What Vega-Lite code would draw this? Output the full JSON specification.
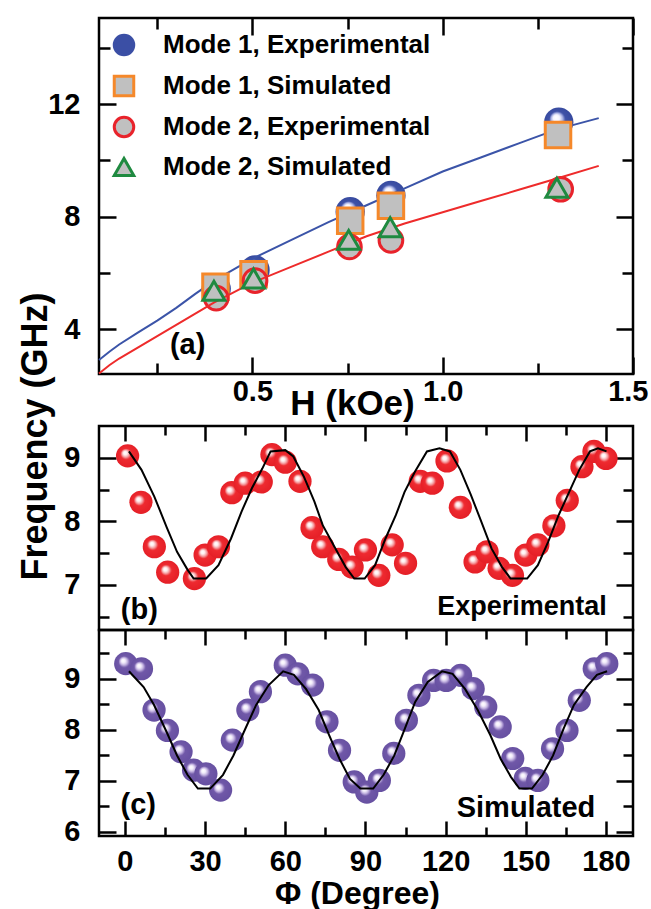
{
  "$schema": "https://vega.github.io/schema/vega-lite/v6.json",
  "background": "white",
  "padding": {"left": 15, "top": 15, "right": 4, "bottom": 5},
  "bounds": "flush",
  "spacing": 0,
  "datasets": {
    "pa": [
      {"series": "Mode 1, Experimental", "H": 0.405, "f": 5.43},
      {"series": "Mode 1, Experimental", "H": 0.507, "f": 6.1},
      {"series": "Mode 1, Experimental", "H": 0.757, "f": 8.17},
      {"series": "Mode 1, Experimental", "H": 0.864, "f": 8.75},
      {"series": "Mode 1, Experimental", "H": 1.305, "f": 11.36},
      {"series": "Mode 1, Simulated", "H": 0.403, "f": 5.5},
      {"series": "Mode 1, Simulated", "H": 0.503, "f": 5.95},
      {"series": "Mode 1, Simulated", "H": 0.757, "f": 7.85},
      {"series": "Mode 1, Simulated", "H": 0.864, "f": 8.38},
      {"series": "Mode 1, Simulated", "H": 1.303, "f": 10.9},
      {"series": "Mode 2, Experimental", "H": 0.405, "f": 5.1},
      {"series": "Mode 2, Experimental", "H": 0.507, "f": 5.72},
      {"series": "Mode 2, Experimental", "H": 0.755, "f": 6.92},
      {"series": "Mode 2, Experimental", "H": 0.864, "f": 7.15},
      {"series": "Mode 2, Experimental", "H": 1.31, "f": 8.97},
      {"series": "Mode 2, Simulated", "H": 0.399, "f": 5.36},
      {"series": "Mode 2, Simulated", "H": 0.503, "f": 5.8},
      {"series": "Mode 2, Simulated", "H": 0.753, "f": 7.17},
      {"series": "Mode 2, Simulated", "H": 0.862, "f": 7.62},
      {"series": "Mode 2, Simulated", "H": 1.3, "f": 9.02}
    ],
    "la": [
      {"mode": "Mode 1", "H": 0.097, "f": 2.9},
      {"mode": "Mode 1", "H": 0.125, "f": 3.2},
      {"mode": "Mode 1", "H": 0.15, "f": 3.45},
      {"mode": "Mode 1", "H": 0.2, "f": 3.88},
      {"mode": "Mode 1", "H": 0.25, "f": 4.3},
      {"mode": "Mode 1", "H": 0.3, "f": 4.75},
      {"mode": "Mode 1", "H": 0.35, "f": 5.25},
      {"mode": "Mode 1", "H": 0.4, "f": 5.72},
      {"mode": "Mode 1", "H": 0.5, "f": 6.5},
      {"mode": "Mode 1", "H": 0.6, "f": 7.15},
      {"mode": "Mode 1", "H": 0.7, "f": 7.8},
      {"mode": "Mode 1", "H": 0.8, "f": 8.4},
      {"mode": "Mode 1", "H": 0.9, "f": 9.0},
      {"mode": "Mode 1", "H": 1.0, "f": 9.6},
      {"mode": "Mode 1", "H": 1.1, "f": 10.1},
      {"mode": "Mode 1", "H": 1.2, "f": 10.6},
      {"mode": "Mode 1", "H": 1.3, "f": 11.1},
      {"mode": "Mode 1", "H": 1.41, "f": 11.5},
      {"mode": "Mode 2", "H": 0.097, "f": 2.42},
      {"mode": "Mode 2", "H": 0.125, "f": 2.72},
      {"mode": "Mode 2", "H": 0.15, "f": 2.95},
      {"mode": "Mode 2", "H": 0.2, "f": 3.35},
      {"mode": "Mode 2", "H": 0.25, "f": 3.75},
      {"mode": "Mode 2", "H": 0.3, "f": 4.15},
      {"mode": "Mode 2", "H": 0.35, "f": 4.55},
      {"mode": "Mode 2", "H": 0.4, "f": 4.95},
      {"mode": "Mode 2", "H": 0.5, "f": 5.65},
      {"mode": "Mode 2", "H": 0.6, "f": 6.2},
      {"mode": "Mode 2", "H": 0.7, "f": 6.75},
      {"mode": "Mode 2", "H": 0.8, "f": 7.3},
      {"mode": "Mode 2", "H": 0.9, "f": 7.75},
      {"mode": "Mode 2", "H": 1.0, "f": 8.15},
      {"mode": "Mode 2", "H": 1.1, "f": 8.55},
      {"mode": "Mode 2", "H": 1.2, "f": 8.95},
      {"mode": "Mode 2", "H": 1.3, "f": 9.35},
      {"mode": "Mode 2", "H": 1.41, "f": 9.8}
    ],
    "pb": [
      {"phi": 1, "f": 9.03}, {"phi": 6, "f": 8.3}, {"phi": 11, "f": 7.6}, {"phi": 16, "f": 7.2},
      {"phi": 26, "f": 7.1}, {"phi": 30, "f": 7.47}, {"phi": 35, "f": 7.6}, {"phi": 40, "f": 8.45},
      {"phi": 45, "f": 8.6}, {"phi": 51, "f": 8.62}, {"phi": 55, "f": 9.05}, {"phi": 60, "f": 8.93},
      {"phi": 65.5, "f": 8.63}, {"phi": 70, "f": 7.9}, {"phi": 74, "f": 7.6}, {"phi": 80, "f": 7.4},
      {"phi": 85, "f": 7.28}, {"phi": 90, "f": 7.55}, {"phi": 95, "f": 7.15}, {"phi": 100, "f": 7.63},
      {"phi": 105, "f": 7.34}, {"phi": 110.5, "f": 8.63}, {"phi": 115, "f": 8.6}, {"phi": 120.5, "f": 8.95},
      {"phi": 125.5, "f": 8.22}, {"phi": 131, "f": 7.36}, {"phi": 135.5, "f": 7.52}, {"phi": 140, "f": 7.26},
      {"phi": 145, "f": 7.15}, {"phi": 150, "f": 7.47}, {"phi": 154.5, "f": 7.63}, {"phi": 160.5, "f": 7.93},
      {"phi": 165.5, "f": 8.33}, {"phi": 171, "f": 8.86}, {"phi": 175.5, "f": 9.1}, {"phi": 180, "f": 8.99}
    ],
    "lb": [
      {"phi": 1.5, "f": 9.1}, {"phi": 6.2, "f": 8.81}, {"phi": 11, "f": 8.39}, {"phi": 15.6, "f": 7.91},
      {"phi": 19.5, "f": 7.52}, {"phi": 23.4, "f": 7.24}, {"phi": 25.7, "f": 7.1}, {"phi": 30.4, "f": 7.1},
      {"phi": 35, "f": 7.31}, {"phi": 39.7, "f": 7.73}, {"phi": 43.6, "f": 8.15}, {"phi": 47.5, "f": 8.52},
      {"phi": 51.4, "f": 8.83}, {"phi": 54.5, "f": 9.1}, {"phi": 60, "f": 9.12}, {"phi": 63, "f": 9.02},
      {"phi": 67, "f": 8.7}, {"phi": 70.9, "f": 8.31}, {"phi": 74, "f": 7.94}, {"phi": 78.8, "f": 7.57},
      {"phi": 82.6, "f": 7.28}, {"phi": 85.8, "f": 7.1}, {"phi": 89.7, "f": 7.1}, {"phi": 93.6, "f": 7.31},
      {"phi": 97.5, "f": 7.73}, {"phi": 101.4, "f": 8.1}, {"phi": 104.6, "f": 8.46}, {"phi": 108.5, "f": 8.78},
      {"phi": 113, "f": 9.1}, {"phi": 117.7, "f": 9.15}, {"phi": 121.6, "f": 9.1}, {"phi": 125.5, "f": 8.81},
      {"phi": 129.4, "f": 8.42}, {"phi": 133.3, "f": 8.0}, {"phi": 137.2, "f": 7.57}, {"phi": 141.1, "f": 7.28},
      {"phi": 144.3, "f": 7.1}, {"phi": 150.5, "f": 7.1}, {"phi": 154.5, "f": 7.31}, {"phi": 158.4, "f": 7.68},
      {"phi": 162.3, "f": 8.1}, {"phi": 166.2, "f": 8.46}, {"phi": 170, "f": 8.81}, {"phi": 174, "f": 9.1},
      {"phi": 177, "f": 9.15}, {"phi": 180.2, "f": 9.1}
    ],
    "pc": [
      {"phi": 0.3, "f": 9.3}, {"phi": 6.2, "f": 9.2}, {"phi": 10.9, "f": 8.39}, {"phi": 15.9, "f": 7.99},
      {"phi": 21, "f": 7.57}, {"phi": 25.7, "f": 7.21}, {"phi": 30.3, "f": 7.14}, {"phi": 35.8, "f": 6.82},
      {"phi": 40.2, "f": 7.8}, {"phi": 46, "f": 8.39}, {"phi": 50.7, "f": 8.75}, {"phi": 60, "f": 9.27},
      {"phi": 64.7, "f": 9.1}, {"phi": 70.2, "f": 8.88}, {"phi": 75.6, "f": 8.16}, {"phi": 80.3, "f": 7.6},
      {"phi": 85.8, "f": 6.98}, {"phi": 90.5, "f": 6.78}, {"phi": 95.2, "f": 7.01}, {"phi": 100.6, "f": 7.54},
      {"phi": 105.3, "f": 8.19}, {"phi": 110, "f": 8.68}, {"phi": 115.5, "f": 8.97}, {"phi": 120.2, "f": 8.97},
      {"phi": 125.6, "f": 9.07}, {"phi": 130.3, "f": 8.81}, {"phi": 135, "f": 8.45}, {"phi": 140.4, "f": 8.06},
      {"phi": 145.1, "f": 7.44}, {"phi": 149.8, "f": 7.05}, {"phi": 154.5, "f": 7.01}, {"phi": 160, "f": 7.63},
      {"phi": 165.4, "f": 7.99}, {"phi": 170, "f": 8.58}, {"phi": 175.6, "f": 9.2}, {"phi": 180.3, "f": 9.3}
    ],
    "lc": [
      {"phi": 1.5, "f": 9.15}, {"phi": 7, "f": 8.84}, {"phi": 10.9, "f": 8.49}, {"phi": 15.6, "f": 7.96},
      {"phi": 19.5, "f": 7.5}, {"phi": 23.4, "f": 7.12}, {"phi": 27.3, "f": 6.85}, {"phi": 31.9, "f": 6.85},
      {"phi": 36.7, "f": 7.12}, {"phi": 40.6, "f": 7.5}, {"phi": 44.5, "f": 7.96}, {"phi": 49.1, "f": 8.49},
      {"phi": 53.8, "f": 8.88}, {"phi": 59.2, "f": 9.15}, {"phi": 63.2, "f": 9.08}, {"phi": 67.8, "f": 8.8},
      {"phi": 72.5, "f": 8.39}, {"phi": 76.4, "f": 7.9}, {"phi": 80.3, "f": 7.43}, {"phi": 84.2, "f": 7.04},
      {"phi": 88.1, "f": 6.85}, {"phi": 92.9, "f": 6.85}, {"phi": 96.8, "f": 7.12}, {"phi": 100.8, "f": 7.5},
      {"phi": 104.7, "f": 8.02}, {"phi": 108.6, "f": 8.55}, {"phi": 113.3, "f": 8.94}, {"phi": 118.7, "f": 9.15},
      {"phi": 122.6, "f": 9.1}, {"phi": 127.3, "f": 8.8}, {"phi": 132, "f": 8.39}, {"phi": 136.7, "f": 7.9},
      {"phi": 140.6, "f": 7.43}, {"phi": 144.4, "f": 7.08}, {"phi": 147.6, "f": 6.85}, {"phi": 152.3, "f": 6.85},
      {"phi": 156.3, "f": 7.12}, {"phi": 160.2, "f": 7.5}, {"phi": 164.1, "f": 8.02}, {"phi": 168, "f": 8.49},
      {"phi": 172.7, "f": 8.84}, {"phi": 176.6, "f": 9.08}, {"phi": 180.4, "f": 9.15}
    ]
  },
  "vconcat": [
    {
      "width": 534,
      "height": 356,
      "resolve": {"axis": {"x": "independent", "y": "independent"}},
      "layer": [
        {
          "data": {"name": "pa"},
          "transform": [{"filter": "datum.series === 'Mode 1, Experimental'"}],
          "mark": {"type": "circle", "size": 860, "opacity": 1, "strokeWidth": 0,
            "fill": {"gradient": "radial", "x1": 0.4, "y1": 0.33, "r1": 0, "x2": 0.5, "y2": 0.5, "r2": 0.55,
              "stops": [{"offset": 0, "color": "#ffffff"}, {"offset": 0.2, "color": "#f4f4ff"}, {"offset": 0.36, "color": "#a9b2e4"}, {"offset": 0.5, "color": "#3f52a8"}, {"offset": 1, "color": "#34479c"}]}},
          "encoding": {
            "x": {"field": "H", "type": "quantitative", "scale": {"domain": [0.097, 1.5], "nice": false, "zero": false},
              "axis": {"orient": "bottom", "ticks": false, "values": [0.5, 1.0, 1.5], "format": ".1f", "labelPadding": 3,
                "labelFlush": 5, "labelFlushOffset": 15,
                "title": "H (kOe)", "titleFontSize": 35, "titleX": 253, "titleY": 40, "titleBaseline": "alphabetic", "titleAlign": "center"}},
            "y": {"field": "f", "type": "quantitative", "scale": {"domain": [2.4, 15.06], "nice": false, "zero": false},
              "axis": {"orient": "left", "ticks": false, "values": [4, 8, 12], "labelPadding": 19, "title": null}}
          }
        },
        {
          "data": {"name": "la"},
          "transform": [{"filter": "datum.mode === 'Mode 1'"}],
          "mark": {"type": "line", "color": "#3b54a8", "strokeWidth": 2},
          "encoding": {
            "x": {"field": "H", "type": "quantitative", "scale": {"domain": [0.097, 1.5], "nice": false, "zero": false},
              "axis": {"orient": "bottom", "labels": false, "title": null, "values": [0.25, 0.5, 0.75, 1.0, 1.25, 1.5],
                "tickSize": {"condition": {"test": "abs(datum.value*2 - round(datum.value*2)) < 0.01", "value": -17}, "value": -11}}},
            "y": {"field": "f", "type": "quantitative", "scale": {"domain": [2.4, 15.06], "nice": false, "zero": false},
              "axis": {"orient": "left", "labels": false, "title": null, "values": [4, 6, 8, 10, 12, 14],
                "tickSize": {"condition": {"test": "datum.value % 4 === 0", "value": -17}, "value": -11}}}
          }
        },
        {
          "data": {"name": "pa"},
          "transform": [{"filter": "datum.series === 'Mode 1, Simulated'"}],
          "mark": {"type": "point", "filled": true, "size": 650, "strokeWidth": 3, "opacity": 1},
          "encoding": {
            "x": {"field": "H", "type": "quantitative", "scale": {"domain": [0.097, 1.5], "nice": false, "zero": false},
              "axis": {"orient": "top", "labels": false, "title": null, "values": [0.25, 0.5, 0.75, 1.0, 1.25, 1.5],
                "tickSize": {"condition": {"test": "abs(datum.value*2 - round(datum.value*2)) < 0.01", "value": -17}, "value": -11}}},
            "y": {"field": "f", "type": "quantitative", "scale": {"domain": [2.4, 15.06], "nice": false, "zero": false},
              "axis": {"orient": "right", "labels": false, "title": null, "values": [4, 6, 8, 10, 12, 14],
                "tickSize": {"condition": {"test": "datum.value % 4 === 0", "value": -17}, "value": -11}}},
            "fill": {"field": "series", "type": "nominal",
              "scale": {"domain": ["Mode 1, Experimental", "Mode 1, Simulated", "Mode 2, Experimental", "Mode 2, Simulated"], "range": ["#3b4fa5", "#c0c0c0", "#c0c0c0", "#c0c0c0"]},
              "legend": {"title": null, "orient": "none", "legendX": 12, "legendY": 14}},
            "stroke": {"field": "series", "type": "nominal",
              "scale": {"domain": ["Mode 1, Experimental", "Mode 1, Simulated", "Mode 2, Experimental", "Mode 2, Simulated"], "range": ["#3b4fa5", "#f5882a", "#e8232b", "#1f8a40"]},
              "legend": {"title": null, "orient": "none", "legendX": 12, "legendY": 14}},
            "shape": {"field": "series", "type": "nominal",
              "scale": {"domain": ["Mode 1, Experimental", "Mode 1, Simulated", "Mode 2, Experimental", "Mode 2, Simulated"], "range": ["circle", "square", "circle", "triangle-up"]},
              "legend": {"title": null, "orient": "none", "legendX": 12, "legendY": 14}}
          }
        },
        {
          "data": {"name": "pa"},
          "transform": [{"filter": "datum.series === 'Mode 2, Experimental'"}],
          "mark": {"type": "point", "filled": true, "size": 560, "strokeWidth": 3, "opacity": 1},
          "encoding": {
            "x": {"field": "H", "type": "quantitative", "scale": {"domain": [0.097, 1.5], "nice": false, "zero": false}, "axis": null},
            "y": {"field": "f", "type": "quantitative", "scale": {"domain": [2.4, 15.06], "nice": false, "zero": false}, "axis": null},
            "fill": {"field": "series", "type": "nominal",
              "scale": {"domain": ["Mode 1, Experimental", "Mode 1, Simulated", "Mode 2, Experimental", "Mode 2, Simulated"], "range": ["#3b4fa5", "#c0c0c0", "#c0c0c0", "#c0c0c0"]},
              "legend": {"title": null, "orient": "none", "legendX": 12, "legendY": 14}},
            "stroke": {"field": "series", "type": "nominal",
              "scale": {"domain": ["Mode 1, Experimental", "Mode 1, Simulated", "Mode 2, Experimental", "Mode 2, Simulated"], "range": ["#3b4fa5", "#f5882a", "#e8232b", "#1f8a40"]},
              "legend": {"title": null, "orient": "none", "legendX": 12, "legendY": 14}},
            "shape": {"field": "series", "type": "nominal",
              "scale": {"domain": ["Mode 1, Experimental", "Mode 1, Simulated", "Mode 2, Experimental", "Mode 2, Simulated"], "range": ["circle", "square", "circle", "triangle-up"]},
              "legend": {"title": null, "orient": "none", "legendX": 12, "legendY": 14}}
          }
        },
        {
          "data": {"name": "la"},
          "transform": [{"filter": "datum.mode === 'Mode 2'"}],
          "mark": {"type": "line", "color": "#ee2b2b", "strokeWidth": 2},
          "encoding": {
            "x": {"field": "H", "type": "quantitative", "scale": {"domain": [0.097, 1.5], "nice": false, "zero": false}, "axis": null},
            "y": {"field": "f", "type": "quantitative", "scale": {"domain": [2.4, 15.06], "nice": false, "zero": false}, "axis": null}
          }
        },
        {
          "data": {"name": "pa"},
          "transform": [{"filter": "datum.series === 'Mode 2, Simulated'"}],
          "mark": {"type": "point", "filled": true, "size": 480, "strokeWidth": 3, "opacity": 1},
          "encoding": {
            "x": {"field": "H", "type": "quantitative", "scale": {"domain": [0.097, 1.5], "nice": false, "zero": false}, "axis": null},
            "y": {"field": "f", "type": "quantitative", "scale": {"domain": [2.4, 15.06], "nice": false, "zero": false}, "axis": null},
            "fill": {"field": "series", "type": "nominal",
              "scale": {"domain": ["Mode 1, Experimental", "Mode 1, Simulated", "Mode 2, Experimental", "Mode 2, Simulated"], "range": ["#3b4fa5", "#c0c0c0", "#c0c0c0", "#c0c0c0"]},
              "legend": {"title": null, "orient": "none", "legendX": 12, "legendY": 14}},
            "stroke": {"field": "series", "type": "nominal",
              "scale": {"domain": ["Mode 1, Experimental", "Mode 1, Simulated", "Mode 2, Experimental", "Mode 2, Simulated"], "range": ["#3b4fa5", "#f5882a", "#e8232b", "#1f8a40"]},
              "legend": {"title": null, "orient": "none", "legendX": 12, "legendY": 14}},
            "shape": {"field": "series", "type": "nominal",
              "scale": {"domain": ["Mode 1, Experimental", "Mode 1, Simulated", "Mode 2, Experimental", "Mode 2, Simulated"], "range": ["circle", "square", "circle", "triangle-up"]},
              "legend": {"title": null, "orient": "none", "legendX": 12, "legendY": 14}}
          }
        },
        {
          "data": {"values": [{}]},
          "mark": {"type": "text", "text": "(a)", "fontSize": 29, "font": "Liberation Sans", "fontWeight": "bold", "color": "black", "align": "center", "baseline": "middle"},
          "encoding": {
            "x": {"datum": 0.33, "type": "quantitative", "scale": {"domain": [0.097, 1.5], "nice": false, "zero": false}, "axis": null},
            "y": {"datum": 3.43, "type": "quantitative", "scale": {"domain": [2.4, 15.06], "nice": false, "zero": false}, "axis": null}
          }
        }
      ]
    },
    {
      "width": 534,
      "height": 52,
      "view": {"stroke": null},
      "data": {"values": []},
      "mark": {"type": "point", "opacity": 0}
    },
    {
      "width": 534,
      "height": 204,
      "resolve": {"axis": {"x": "independent", "y": "independent"}},
      "layer": [
        {
          "data": {"name": "pb"},
          "mark": {"type": "circle", "size": 540, "opacity": 1, "strokeWidth": 0,
            "fill": {"gradient": "radial", "x1": 0.38, "y1": 0.36, "r1": 0, "x2": 0.5, "y2": 0.5, "r2": 0.55,
              "stops": [{"offset": 0, "color": "#ffffff"}, {"offset": 0.14, "color": "#fff2f2"}, {"offset": 0.28, "color": "#f5a3a6"}, {"offset": 0.43, "color": "#ee2a30"}, {"offset": 1, "color": "#e31d25"}]}},
          "encoding": {
            "x": {"field": "phi", "type": "quantitative", "scale": {"domain": [-9.7, 190.1], "nice": false, "zero": false}, "axis": null},
            "y": {"field": "f", "type": "quantitative", "scale": {"domain": [6.29, 9.5], "nice": false, "zero": false},
              "axis": {"orient": "left", "ticks": false, "values": [7, 8, 9], "labelPadding": 19,
                "title": "Frequency (GHz)", "titleFontSize": 36, "titleAngle": -90, "titleX": -64, "titleY": 10, "titleBaseline": "middle", "titleAlign": "center"}}
          }
        },
        {
          "data": {"name": "lb"},
          "mark": {"type": "line", "color": "black", "strokeWidth": 2},
          "encoding": {
            "x": {"field": "phi", "type": "quantitative", "scale": {"domain": [-9.7, 190.1], "nice": false, "zero": false},
              "axis": {"orient": "top", "labels": false, "title": null, "values": [0, 15, 30, 45, 60, 75, 90, 105, 120, 135, 150, 165, 180],
                "tickSize": {"condition": {"test": "datum.value % 30 === 0", "value": -15}, "value": -9}}},
            "y": {"field": "f", "type": "quantitative", "scale": {"domain": [6.29, 9.5], "nice": false, "zero": false},
              "axis": {"orient": "left", "labels": false, "title": null, "values": [6.5, 7, 7.5, 8, 8.5, 9],
                "tickSize": {"condition": {"test": "datum.value % 1 === 0", "value": -17}, "value": -10}}}
          }
        },
        {
          "data": {"values": [{}]},
          "mark": {"type": "text", "text": "(b)", "fontSize": 29, "font": "Liberation Sans", "fontWeight": "bold", "color": "black", "align": "center", "baseline": "middle"},
          "encoding": {
            "x": {"datum": 5.4, "type": "quantitative", "scale": {"domain": [-9.7, 190.1], "nice": false, "zero": false}, "axis": null},
            "y": {"datum": 6.6, "type": "quantitative", "scale": {"domain": [6.29, 9.5], "nice": false, "zero": false},
              "axis": {"orient": "right", "labels": false, "title": null, "values": [6.5, 7, 7.5, 8, 8.5, 9],
                "tickSize": {"condition": {"test": "datum.value % 1 === 0", "value": -17}, "value": -10}}}
          }
        },
        {
          "data": {"values": [{}]},
          "mark": {"type": "text", "text": "Experimental", "fontSize": 27, "font": "Liberation Sans", "fontWeight": "bold", "color": "black", "align": "right", "baseline": "alphabetic"},
          "encoding": {
            "x": {"datum": 180.3, "type": "quantitative", "scale": {"domain": [-9.7, 190.1], "nice": false, "zero": false}, "axis": null},
            "y": {"datum": 6.53, "type": "quantitative", "scale": {"domain": [6.29, 9.5], "nice": false, "zero": false}, "axis": null}
          }
        }
      ]
    },
    {
      "width": 534,
      "height": 206,
      "resolve": {"axis": {"x": "independent", "y": "independent"}},
      "layer": [
        {
          "data": {"name": "pc"},
          "mark": {"type": "circle", "size": 540, "opacity": 1, "strokeWidth": 0,
            "fill": {"gradient": "radial", "x1": 0.38, "y1": 0.36, "r1": 0, "x2": 0.5, "y2": 0.5, "r2": 0.55,
              "stops": [{"offset": 0, "color": "#ffffff"}, {"offset": 0.15, "color": "#f4effb"}, {"offset": 0.29, "color": "#c5b5e2"}, {"offset": 0.45, "color": "#7058a8"}, {"offset": 1, "color": "#654fa0"}]}},
          "encoding": {
            "x": {"field": "phi", "type": "quantitative", "scale": {"domain": [-9.7, 190.1], "nice": false, "zero": false},
              "axis": {"orient": "bottom", "ticks": false, "values": [0, 30, 60, 90, 120, 150, 180], "labelPadding": 11,
                "title": "Φ (Degree)", "titleFontSize": 32, "titleX": 258, "titleY": 67, "titleBaseline": "alphabetic", "titleAlign": "center"}},
            "y": {"field": "f", "type": "quantitative", "scale": {"domain": [5.92, 9.96], "nice": false, "zero": false},
              "axis": {"orient": "left", "ticks": false, "values": [6, 7, 8, 9], "labelPadding": 19, "title": null}}
          }
        },
        {
          "data": {"name": "lc"},
          "mark": {"type": "line", "color": "black", "strokeWidth": 2},
          "encoding": {
            "x": {"field": "phi", "type": "quantitative", "scale": {"domain": [-9.7, 190.1], "nice": false, "zero": false},
              "axis": {"orient": "bottom", "labels": false, "title": null, "values": [0, 15, 30, 45, 60, 75, 90, 105, 120, 135, 150, 165, 180],
                "tickSize": {"condition": {"test": "datum.value % 30 === 0", "value": -15}, "value": -9}}},
            "y": {"field": "f", "type": "quantitative", "scale": {"domain": [5.92, 9.96], "nice": false, "zero": false},
              "axis": {"orient": "left", "labels": false, "title": null, "values": [6, 6.5, 7, 7.5, 8, 8.5, 9, 9.5],
                "tickSize": {"condition": {"test": "datum.value % 1 === 0", "value": -17}, "value": -10}}}
          }
        },
        {
          "data": {"values": [{}]},
          "mark": {"type": "text", "text": "(c)", "fontSize": 29, "font": "Liberation Sans", "fontWeight": "bold", "color": "black", "align": "center", "baseline": "middle"},
          "encoding": {
            "x": {"datum": 5, "type": "quantitative", "scale": {"domain": [-9.7, 190.1], "nice": false, "zero": false},
              "axis": {"orient": "top", "labels": false, "title": null, "values": [0, 15, 30, 45, 60, 75, 90, 105, 120, 135, 150, 165, 180],
                "tickSize": {"condition": {"test": "datum.value % 30 === 0", "value": -15}, "value": -9}}},
            "y": {"datum": 6.53, "type": "quantitative", "scale": {"domain": [5.92, 9.96], "nice": false, "zero": false},
              "axis": {"orient": "right", "labels": false, "title": null, "values": [6, 6.5, 7, 7.5, 8, 8.5, 9, 9.5],
                "tickSize": {"condition": {"test": "datum.value % 1 === 0", "value": -17}, "value": -10}}}
          }
        },
        {
          "data": {"values": [{}]},
          "mark": {"type": "text", "text": "Simulated", "fontSize": 29, "font": "Liberation Sans", "fontWeight": "bold", "color": "black", "align": "right", "baseline": "alphabetic"},
          "encoding": {
            "x": {"datum": 176, "type": "quantitative", "scale": {"domain": [-9.7, 190.1], "nice": false, "zero": false}, "axis": null},
            "y": {"datum": 6.29, "type": "quantitative", "scale": {"domain": [5.92, 9.96], "nice": false, "zero": false}, "axis": null}
          }
        }
      ]
    }
  ],
  "config": {
    "view": {"stroke": "black", "strokeWidth": 2.5},
    "font": "Liberation Sans",
    "axis": {"domain": false, "grid": false, "labelFont": "Liberation Sans", "labelFontSize": 29, "labelFontWeight": "bold", "labelColor": "black",
      "titleFont": "Liberation Sans", "titleFontWeight": "bold", "titleColor": "black", "tickColor": "black", "tickWidth": 2.5, "labelFlush": false, "labelOverlap": false},
    "legend": {"labelFont": "Liberation Sans", "labelFontSize": 26, "labelFontWeight": "bold", "labelColor": "black", "symbolSize": 380, "symbolStrokeWidth": 3,
      "rowPadding": 9, "labelOffset": 26, "padding": 0, "labelLimit": 400}
  }
}
